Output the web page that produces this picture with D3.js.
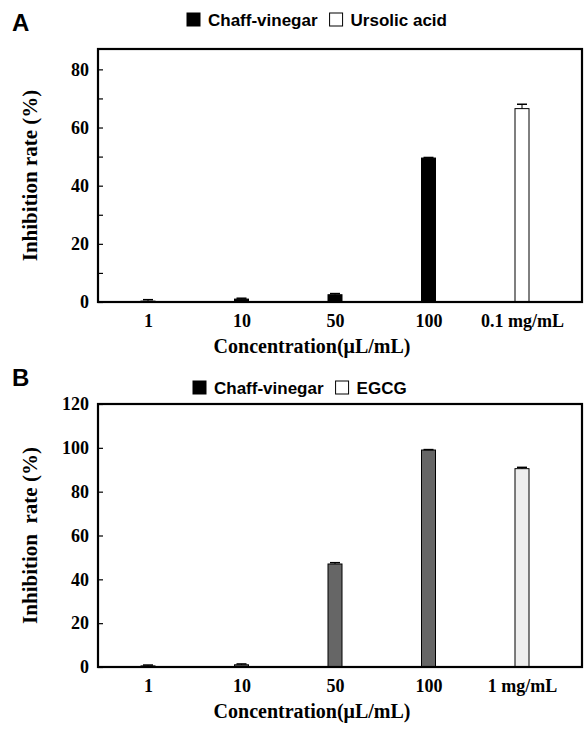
<!DOCTYPE html>
<html>
<head>
<meta charset="utf-8">
<script src="https://cdn.jsdelivr.net/npm/d3@7"></script>
<style>
  html, body { margin: 0; padding: 0; background: #fff; }
  svg { display: block; }
</style>
</head>
<body>
<svg id="chart" width="585" height="729"></svg>
<script>
// ---------- data ----------
const categoriesA = ["1", "10", "50", "100", "0.1 mg/mL"];
const valuesA = [0.3, 1.0, 2.5, 49.5, 66.5];
const errorsA = [0.5, 0.3, 0.4, 0.2, 1.5];
const seriesA = ["Chaff-vinegar", "Chaff-vinegar", "Chaff-vinegar", "Chaff-vinegar", "Ursolic acid"];
const legendA = ["Chaff-vinegar", "Ursolic acid"];
const yTicksA = [0, 20, 40, 60, 80];
const yMinorA = [10, 30, 50, 70];

const categoriesB = ["1", "10", "50", "100", "1 mg/mL"];
const valuesB = [0.5, 1.0, 47.0, 99.0, 90.5];
const errorsB = [0.4, 0.4, 0.6, 0.2, 0.6];
const seriesB = ["Chaff-vinegar", "Chaff-vinegar", "Chaff-vinegar", "Chaff-vinegar", "EGCG"];
const legendB = ["Chaff-vinegar", "EGCG"];
const yTicksB = [0, 20, 40, 60, 80, 100, 120];

const svg = d3.select("#chart");
const serif = "'Liberation Serif', 'Times New Roman', serif";
const sans = "'Liberation Sans', Arial, sans-serif";

function panel(opt) {
  const g = svg.append("g");
  const x = d3.scalePoint().domain(opt.categories).range([opt.x0, opt.x1]);
  const y = d3.scaleLinear().domain([0, opt.yMax]).range([opt.bottom, opt.top]);

  // panel letter
  g.append("text").attr("x", 12).attr("y", opt.letterY)
    .attr("font-family", sans).attr("font-weight", "bold").attr("font-size", 24)
    .text(opt.letter);

  // legend
  const lg = g.append("g").attr("transform", `translate(${opt.legendX},${opt.legendY})`);
  let cx = 0;
  opt.legend.forEach((name, i) => {
    lg.append("rect").attr("x", cx).attr("y", -13).attr("width", 13).attr("height", 13)
      .attr("fill", i === 0 ? "#000" : "#fff").attr("stroke", "#000").attr("stroke-width", 1);
    const t = lg.append("text").attr("x", cx + 21).attr("y", 0)
      .attr("font-family", sans).attr("font-weight", "bold").attr("font-size", 17)
      .text(name);
    cx += 21 + t.node().getComputedTextLength() + opt.legendGap;
  });

  // bars
  const bw = 14;
  g.selectAll("rect.bar").data(opt.values).join("rect").attr("class", "bar")
    .attr("x", (d, i) => x(opt.categories[i]) - bw / 2)
    .attr("y", d => y(d))
    .attr("width", bw)
    .attr("height", d => y(0) - y(d))
    .attr("fill", (d, i) => opt.fills[opt.series[i]])
    .attr("stroke", "#000").attr("stroke-width", 1);

  // error bars
  opt.values.forEach((v, i) => {
    const cxp = x(opt.categories[i]);
    const yt = y(v + opt.errors[i]);
    g.append("line").attr("x1", cxp).attr("x2", cxp).attr("y1", y(v)).attr("y2", yt)
      .attr("stroke", "#000").attr("stroke-width", 1);
    g.append("line").attr("x1", cxp - 5).attr("x2", cxp + 5).attr("y1", yt).attr("y2", yt)
      .attr("stroke", "#000").attr("stroke-width", 1.5);
  });

  // frame
  g.append("rect").attr("x", opt.left).attr("y", opt.top)
    .attr("width", opt.right - opt.left).attr("height", opt.bottom - opt.top)
    .attr("fill", "none").attr("stroke", "#000").attr("stroke-width", 2.2);

  // y axis
  const ya = d3.axisLeft(y).tickValues(opt.yTicks).tickSize(5).tickPadding(6);
  const yg = g.append("g").attr("transform", `translate(${opt.left},0)`).call(ya);
  yg.select(".domain").remove();
  yg.selectAll("line").attr("stroke-width", 1.2).attr("transform", "translate(5,0)");
  yg.selectAll("text").attr("font-family", serif).attr("font-weight", "bold")
    .attr("font-size", 18).attr("fill", "#000").attr("dx", 2);
  if (opt.yMinor) {
    g.append("g").attr("transform", `translate(${opt.left},0)`)
      .call(d3.axisLeft(y).tickValues(opt.yMinor).tickSize(5).tickFormat(""))
      .call(s => s.select(".domain").remove())
      .selectAll("line").attr("stroke-width", 1.2).attr("transform", "translate(5,0)");
  }

  // x axis labels
  const xa = d3.axisBottom(x).tickSize(0).tickPadding(12);
  const xg = g.append("g").attr("transform", `translate(0,${opt.bottom})`).call(xa);
  xg.select(".domain").remove();
  xg.selectAll("text").attr("font-family", serif).attr("font-weight", "bold")
    .attr("font-size", 18).attr("fill", "#000");

  // axis titles
  g.append("text").attr("x", 312).attr("y", opt.bottom + 51)
    .attr("text-anchor", "middle").attr("font-family", serif).attr("font-weight", "bold")
    .attr("font-size", 20).text("Concentration(μL/mL)");
  g.append("text").attr("transform", `translate(37,${(opt.top + opt.bottom) / 2}) rotate(-90)`)
    .attr("text-anchor", "middle").attr("font-family", serif).attr("font-weight", "bold")
    .attr("font-size", 21).attr("xml:space", "preserve").style("white-space", "pre")
    .text(opt.yTitle);
}

panel({
  letter: "A", letterY: 31,
  legend: legendA, legendX: 187, legendY: 26, legendGap: 12,
  categories: categoriesA, values: valuesA, errors: errorsA, series: seriesA,
  fills: { "Chaff-vinegar": "#000", "Ursolic acid": "#fff" },
  yTicks: yTicksA, yMinor: yMinorA, yMax: 87,
  left: 98, right: 582, top: 49, bottom: 302,
  x0: 148, x1: 522,
  yTitle: "Inhibition rate (%)"
});

panel({
  letter: "B", letterY: 386,
  legend: legendB, legendX: 193, legendY: 394, legendGap: 12,
  categories: categoriesB, values: valuesB, errors: errorsB, series: seriesB,
  fills: { "Chaff-vinegar": "#666", "EGCG": "#eee" },
  yTicks: yTicksB, yMinor: null, yMax: 120,
  left: 98, right: 582, top: 404, bottom: 667,
  x0: 148, x1: 522,
  yTitle: "Inhibition  rate (%)"
});
</script>
</body>
</html>
